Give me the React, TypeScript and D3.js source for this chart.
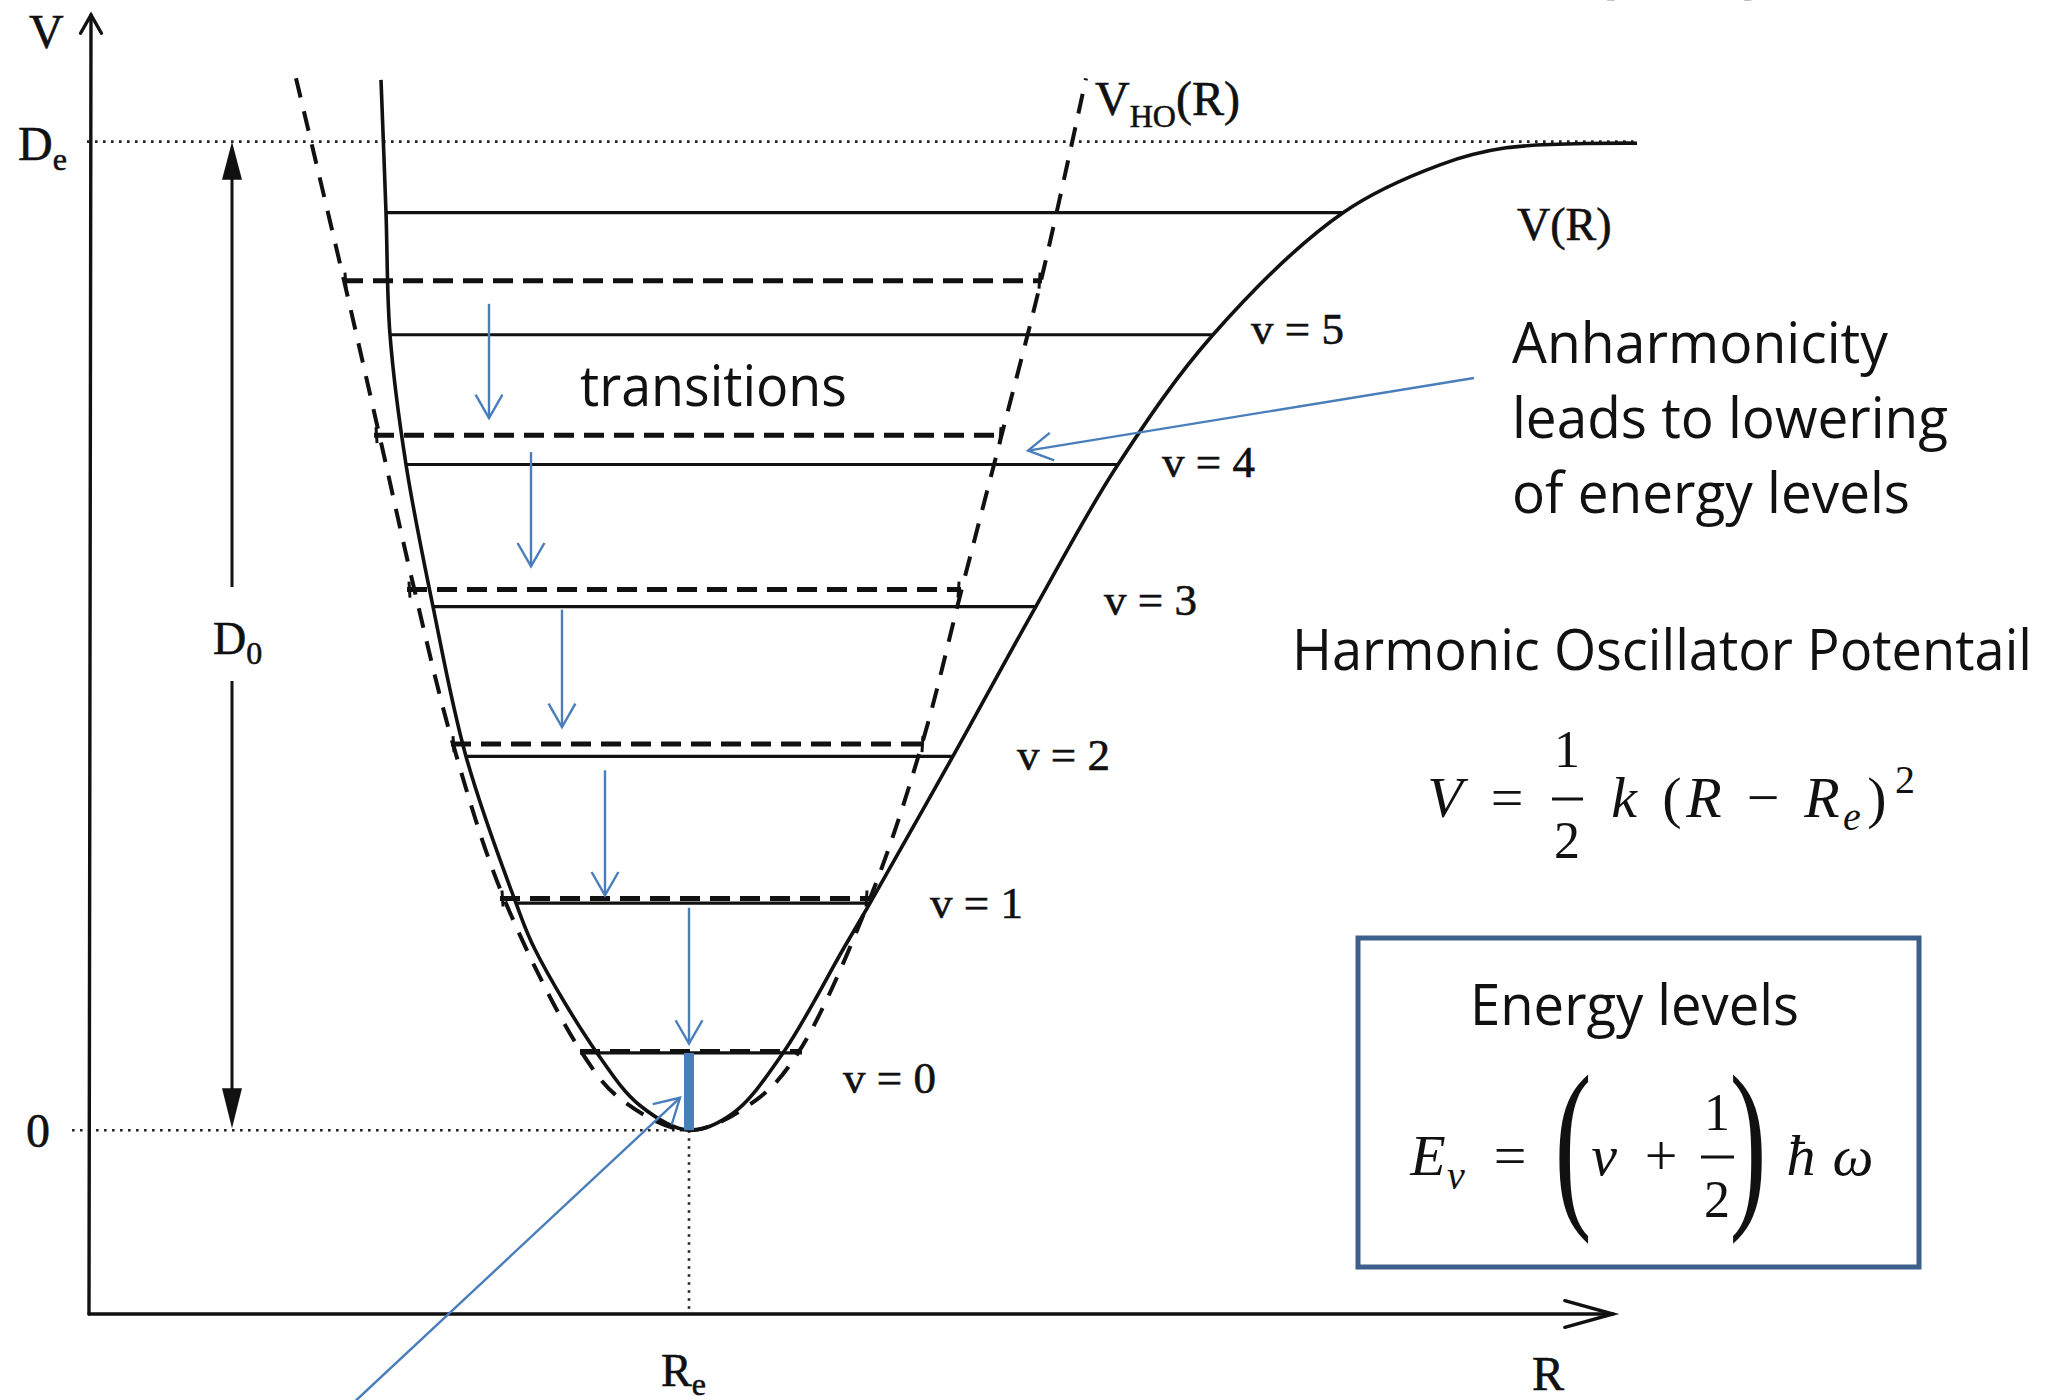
import React from 'react';
import * as d3 from 'd3';

const W = 2053;
const H = 1400;

// Internuclear distance R (arbitrary units) and potential energy V (units of ħω)
const Re = 6.0;
const De = 6.4;

// Anharmonic (Morse-like) potential V(R)
const morseR = [2.92, 2.97, 3.01, 3.17, 3.44, 3.77, 4.27, 4.46, 5.08, 5.51, 6.0, 6.44, 6.94, 7.54, 7.81, 8.63, 9.46, 10.28, 11.24, 12.54, 13.51, 14.17, 15.48];
const morseV = [6.8, 5.94, 5.15, 4.31, 3.39, 2.42, 1.47, 1.17, 0.5, 0.16, 0.0, 0.11, 0.5, 1.17, 1.47, 2.41, 3.38, 4.3, 5.15, 5.94, 6.25, 6.36, 6.39];

// Harmonic oscillator potential V_HO(R)
const hoR = [2.07, 2.55, 2.9, 3.25, 3.64, 4.15, 4.93, 5.32, 6.0, 6.68, 7.09, 7.81, 8.33, 8.73, 9.13, 9.52, 9.97];
const hoV = [6.81, 5.5, 4.51, 3.51, 2.5, 1.5, 0.5, 0.2, 0.0, 0.2, 0.5, 1.5, 2.5, 3.51, 4.51, 5.5, 6.81];

// Vibrational levels of V(R): energy and classical turning points
const morseLevelE = [0.5, 1.47, 2.42, 3.39, 4.31, 5.15, 5.94];
const morseLevelLeft = [4.91, 4.27, 3.77, 3.44, 3.17, 3.0, 2.98];
const morseLevelRight = [7.13, 7.81, 8.63, 9.46, 10.28, 11.24, 12.54];
const levelLabels = ['v = 0', 'v = 1', 'v = 2', 'v = 3', 'v = 4', 'v = 5'];

// Vibrational levels of V_HO(R)
const hoLevelE = [0.51, 1.5, 2.5, 3.5, 4.5, 5.5];
const hoLevelLeft = [4.91, 4.11, 3.62, 3.18, 2.85, 2.54];
const hoLevelRight = [7.13, 7.8, 8.36, 8.72, 9.14, 9.53];

// Downward transitions (blue arrows)
const transR = [4.0, 4.42, 4.73, 5.16, 6.0];
const transFrom = [5.35, 4.39, 3.37, 2.33, 1.44];
const transTo = [4.61, 3.65, 2.61, 1.52, 0.56];

// label offsets (px) from the right end of each level
const labelDx = [41, 60, 65, 69, 45, 38];
const labelDy = [40, 15, 14, 8, 13, 9];

const serif = "'Liberation Serif', 'Times New Roman', serif";
const sans = "'Open Sans', 'Noto Sans', sans-serif";
const blue = '#4a7ebb';
const boxBlue = '#3c5f8c';

function chevron(tx: number, ty: number, fx: number, fy: number, len: number, half: number) {
  const ang = Math.atan2(fy - ty, fx - tx);
  const a1 = ang - half;
  const a2 = ang + half;
  return `M${tx + len * Math.cos(a1)},${ty + len * Math.sin(a1)}L${tx},${ty}L${tx + len * Math.cos(a2)},${ty + len * Math.sin(a2)}`;
}

export default function App() {
  const x = d3.scaleLinear().domain([0, 15.24]).range([89, 1613]);
  const y = d3.scaleLinear().domain([-1.19, 7.22]).range([1314, 15]);

  const curve = d3
    .line<[number, number]>()
    .x((d) => x(d[0]))
    .y((d) => y(d[1]))
    .curve(d3.curveCatmullRom.alpha(0.5));

  const morsePath = curve(morseR.map((r, i) => [r, morseV[i]] as [number, number])) || '';
  const hoPath = curve(hoR.map((r, i) => [r, hoV[i]] as [number, number])) || '';

  const x0 = x(0);
  const y0 = y(0);
  const xAxisY = y(-1.19);
  const xEnd = x(15.24);
  const axisTop = y(7.22);
  const d0x = x(1.43);

  // annotation arrows
  const anhFrom = [x(13.85), y(4.87)];
  const anhTo = [x(9.39), y(4.4)];
  const zpFrom = [x(2.67), y(-1.75)];
  const zpTo = [x(5.91), y(0.21)];

  return (
    <svg
      width={W}
      height={H}
      viewBox={`0 0 ${W} ${H}`}
      style={{ position: 'absolute', left: 0, top: 0, background: '#fff' }}
    >
      <rect x={0} y={0} width={W} height={H} fill="#fff" />

      {/* dotted reference lines */}
      <g stroke="#222" strokeWidth={2.6} strokeDasharray="2.6 5.4" fill="none">
        <line x1={x(-0.02)} y1={y(De)} x2={x(15.48)} y2={y(De)} />
        <line x1={x(-0.17)} y1={y0} x2={x(Re)} y2={y0} />
        <line x1={x(Re)} y1={y0} x2={x(Re)} y2={xAxisY - 4} />
      </g>

      {/* axes */}
      <g stroke="#111" strokeWidth={3.4} fill="none" strokeLinecap="round">
        <line x1={x0 + 2} y1={axisTop} x2={x0} y2={xAxisY} />
        <line x1={x0} y1={xAxisY} x2={xEnd} y2={xAxisY} />
        <path d={chevron(xEnd, xAxisY, x0, xAxisY, 50, 0.27)} />
        <path d={chevron(x0 + 2, axisTop, x0 + 2, xAxisY, 21, 0.52)} />
      </g>

      {/* D0 double arrow */}
      <g stroke="#111" strokeWidth={3}>
        <line x1={d0x} y1={y(De) + 30} x2={d0x} y2={587} />
        <line x1={d0x} y1={681} x2={d0x} y2={y0 - 30} />
      </g>
      <path
        d={`M${d0x},${y(De)}L${d0x - 10},${y(De) + 38}L${d0x + 10},${y(De) + 38}Z`}
        fill="#111"
      />
      <path d={`M${d0x},${y0 - 2}L${d0x - 10},${y0 - 42}L${d0x + 10},${y0 - 42}Z`} fill="#111" />

      {/* harmonic levels (dashed) */}
      <g stroke="#111" strokeWidth={5} strokeDasharray="20 10" fill="none">
        {hoLevelE.map((e, i) => (
          <line key={i} x1={x(hoLevelLeft[i])} y1={y(e)} x2={x(hoLevelRight[i])} y2={y(e)} />
        ))}
      </g>
      <g stroke="#111" strokeWidth={3} fill="none">
        {hoLevelE.slice(1).map((e, i) => (
          <g key={i}>
            <line x1={x(hoLevelLeft[i + 1]) + 2} y1={y(e) - 8} x2={x(hoLevelLeft[i + 1]) + 3} y2={y(e) + 8} />
            <line x1={x(hoLevelRight[i + 1]) - 2} y1={y(e) - 8} x2={x(hoLevelRight[i + 1]) - 3} y2={y(e) + 8} />
          </g>
        ))}
      </g>

      {/* anharmonic levels (solid) */}
      <g stroke="#111" strokeWidth={3.2} fill="none">
        {morseLevelE.map((e, i) => (
          <line key={i} x1={x(morseLevelLeft[i])} y1={y(e)} x2={x(morseLevelRight[i])} y2={y(e)} />
        ))}
      </g>

      {/* potentials */}
      <path d={hoPath} fill="none" stroke="#111" strokeWidth={4} strokeDasharray="20 14" />
      <path d={morsePath} fill="none" stroke="#111" strokeWidth={3.6} />

      {/* zero-point energy bar */}
      <line x1={x(Re)} y1={y(0)} x2={x(Re)} y2={y(morseLevelE[0])} stroke={blue} strokeWidth={10} />

      {/* transitions */}
      <g stroke={blue} strokeWidth={2.4} fill="none">
        {transR.map((r, i) => (
          <g key={i}>
            <line x1={x(r)} y1={y(transFrom[i])} x2={x(r)} y2={y(transTo[i])} />
            <path d={chevron(x(r), y(transTo[i]), x(r), y(transFrom[i]), 27, 0.52)} />
          </g>
        ))}
        <line x1={anhFrom[0]} y1={anhFrom[1]} x2={anhTo[0]} y2={anhTo[1]} />
        <path d={chevron(anhTo[0], anhTo[1], anhFrom[0], anhFrom[1], 28, 0.52)} />
        <line x1={zpFrom[0]} y1={zpFrom[1]} x2={zpTo[0]} y2={zpTo[1]} />
        <path d={chevron(zpTo[0], zpTo[1], zpFrom[0], zpFrom[1], 28, 0.52)} />
      </g>

      {/* serif labels */}
      <g fontFamily={serif} fill="#111" stroke="#111" strokeWidth={0.6}>
        <text x={29} y={48} fontSize={48}>V</text>
        <text x={18} y={160} fontSize={48}>
          D<tspan fontSize={32} dy={10}>e</tspan>
        </text>
        <text x={26} y={1147} fontSize={48}>0</text>
        <text x={213} y={654} fontSize={46}>
          D<tspan fontSize={32} dy={10}>0</tspan>
        </text>
        <text x={661} y={1386} fontSize={46}>
          R<tspan fontSize={32} dy={9}>e</tspan>
        </text>
        <text x={1532} y={1390} fontSize={48}>R</text>
        <text x={1517} y={240} fontSize={46}>V(R)</text>
        <text x={1095} y={115} fontSize={48}>
          V<tspan fontSize={32} dy={12}>HO</tspan>
          <tspan dy={-12}>(R)</tspan>
        </text>
        {levelLabels.map((t, i) => (
          <text key={t} x={x(morseLevelRight[i]) + labelDx[i]} y={y(morseLevelE[i]) + labelDy[i]} fontSize={45}>
            {t}
          </text>
        ))}
      </g>

      {/* clipped heading at the top edge */}
      <g fontFamily={sans} fontWeight={700} fontSize={60} fill="#111">
        <text x={1596} y={-9}>(</text>
        <text x={1742} y={-9}>)</text>
      </g>

      {/* annotation text */}
      <g fontFamily={sans} fontSize={56} fill="#111">
        <text x={580} y={406} textLength={267} lengthAdjust="spacingAndGlyphs">transitions</text>
        <text x={1512} y={363} textLength={376} lengthAdjust="spacingAndGlyphs">Anharmonicity</text>
        <text x={1512} y={438} textLength={436} lengthAdjust="spacingAndGlyphs">leads to lowering</text>
        <text x={1512} y={513} textLength={398} lengthAdjust="spacingAndGlyphs">of energy levels</text>
        <text x={1292} y={670} textLength={740} lengthAdjust="spacingAndGlyphs">Harmonic Oscillator Potentail</text>
      </g>

      {/* V = 1/2 k (R - Re)^2 */}
      <g fontFamily={serif} fill="#111" textAnchor="middle">
        <text x={1445} y={817} fontSize={58} fontStyle="italic">V</text>
        <text x={1507} y={817} fontSize={58}>=</text>
        <text x={1567} y={767} fontSize={52}>1</text>
        <line x1={1552} y1={799} x2={1583} y2={799} stroke="#111" strokeWidth={3} />
        <text x={1567} y={858} fontSize={52}>2</text>
        <text x={1624} y={817} fontSize={58} fontStyle="italic">k</text>
        <text x={1672} y={817} fontSize={58}>(</text>
        <text x={1704} y={817} fontSize={58} fontStyle="italic">R</text>
        <text x={1763} y={817} fontSize={58}>−</text>
        <text x={1822} y={817} fontSize={58} fontStyle="italic">R</text>
        <text x={1852} y={830} fontSize={40} fontStyle="italic">e</text>
        <text x={1877} y={817} fontSize={58}>)</text>
        <text x={1905} y={793} fontSize={40}>2</text>
      </g>

      {/* energy levels box */}
      <rect x={1358} y={938} width={561} height={329} fill="none" stroke={boxBlue} strokeWidth={5} />
      <text x={1470} y={1025} fontFamily={sans} fontSize={56} fill="#111" textLength={329} lengthAdjust="spacingAndGlyphs">
        Energy levels
      </text>
      <g fontFamily={serif} fill="#111" textAnchor="middle">
        <text x={1428} y={1175} fontSize={58} fontStyle="italic">E</text>
        <text x={1456} y={1189} fontSize={40} fontStyle="italic">v</text>
        <text x={1510} y={1175} fontSize={58}>=</text>
        <text transform="translate(1573,1204) scale(0.6,1)" fontSize={186}>(</text>
        <text x={1604} y={1175} fontSize={58} fontStyle="italic">v</text>
        <text x={1661} y={1175} fontSize={58}>+</text>
        <text x={1717} y={1130} fontSize={52}>1</text>
        <line x1={1701} y1={1157} x2={1734} y2={1157} stroke="#111" strokeWidth={3} />
        <text x={1717} y={1217} fontSize={52}>2</text>
        <text transform="translate(1748,1204) scale(0.6,1)" fontSize={186}>)</text>
        <text x={1801} y={1175} fontSize={58} fontStyle="italic">ħ</text>
        <text x={1853} y={1175} fontSize={58} fontStyle="italic">ω</text>
      </g>
    </svg>
  );
}
